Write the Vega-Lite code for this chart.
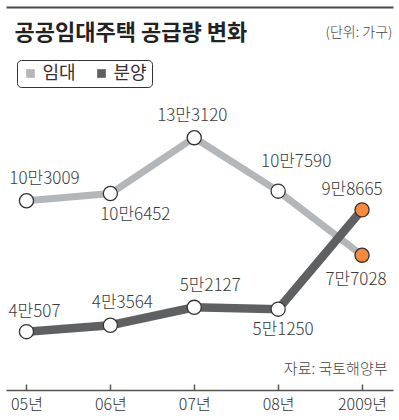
{
  "$schema": "https://vega.github.io/schema/vega-lite/v6.json",
  "width": 387,
  "height": 290,
  "autosize": {"type": "none"},
  "padding": {"left": 6, "top": 100, "right": 6, "bottom": 30},
  "background": "white",
  "config": {
    "view": {"stroke": null},
    "font": "Noto Sans CJK KR",
    "text": {"font": "Noto Sans CJK KR", "fontSize": 17, "fill": "#3a3a3a", "align": "center", "baseline": "middle", "fontWeight": 300}
  },
  "data": {
    "values": [
      {"year": 2005, "type": "임대", "value": 103009, "label": "10만3009"},
      {"year": 2006, "type": "임대", "value": 106452, "label": "10만6452"},
      {"year": 2007, "type": "임대", "value": 133120, "label": "13만3120"},
      {"year": 2008, "type": "임대", "value": 107590, "label": "10만7590"},
      {"year": 2009, "type": "임대", "value": 77028, "label": "7만7028"},
      {"year": 2005, "type": "분양", "value": 40507, "label": "4만507"},
      {"year": 2006, "type": "분양", "value": 43564, "label": "4만3564"},
      {"year": 2007, "type": "분양", "value": 52127, "label": "5만2127"},
      {"year": 2008, "type": "분양", "value": 51250, "label": "5만1250"},
      {"year": 2009, "type": "분양", "value": 98665, "label": "9만8665"}
    ]
  },
  "encoding": {
    "x": {"field": "year", "type": "quantitative", "scale": {"domain": [2004.756, 2009.369], "nice": false, "zero": false}, "axis": null},
    "y": {
      "field": "value", "type": "quantitative",
      "scale": {"domain": [12651, 151118], "nice": false, "zero": false},
      "axis": {
        "orient": "left", "domain": false, "ticks": false, "labels": false, "grid": false,
        "title": "공공임대주택 공급량 변화", "titleAngle": 0, "titleX": 8, "titleY": -68,
        "titleAlign": "left", "titleBaseline": "middle", "titleFontSize": 22, "titleFontWeight": "bold",
        "titleColor": "#222222", "titleFont": "Noto Sans CJK KR"
      }
    }
  },
  "resolve": {"axis": {"x": "independent"}},
  "layer": [
    {
      "mark": {"type": "line", "strokeCap": "butt", "strokeJoin": "miter"},
      "encoding": {
        "x": {
          "field": "year", "type": "quantitative",
          "axis": {
            "orient": "bottom", "values": [2005, 2006, 2007, 2008, 2009],
            "labelExpr": "datum.value == 2009 ? '2009년' : slice(toString(datum.value), 2) + '년'",
            "domainColor": "#555555", "domainWidth": 1.5, "tickColor": "#555555", "tickWidth": 1.5,
            "tickSize": -6, "labelPadding": 12, "labelFontSize": 16, "labelColor": "#333333",
            "labelFont": "Noto Sans CJK KR", "labelFontWeight": 300, "grid": false,
            "title": "자료: 국토해양부", "titleX": 381, "titleY": -22, "titleAlign": "right",
            "titleBaseline": "middle", "titleFontSize": 15, "titleFontWeight": 300,
            "titleColor": "#444444", "titleFont": "Noto Sans CJK KR"
          }
        },
        "color": {
          "field": "type", "type": "nominal",
          "scale": {"domain": ["임대", "분양"], "range": ["#b4b7b9", "#5f6062"]},
          "legend": {
            "orient": "none", "legendX": 11, "legendY": -40, "direction": "horizontal", "title": null,
            "symbolType": "square", "symbolSize": 75, "symbolStrokeWidth": 0, "labelFontSize": 18, "labelColor": "#333333",
            "labelFont": "Noto Sans CJK KR", "labelFontWeight": "normal", "strokeColor": "#333333", "cornerRadius": 4, "padding": 4.5,
            "fillColor": "white", "columnPadding": 16, "labelOffset": 3,
            "encode": {"symbols": {"update": {"fill": {"scale": "color", "field": "value"}, "stroke": {"value": "transparent"}, "strokeWidth": {"value": 0}, "opacity": {"value": 1}}}}
          }
        },
        "strokeWidth": {"condition": {"test": "datum.type == '분양'", "value": 8.5}, "value": 7}
      }
    },
    {
      "mark": {"type": "point", "shape": "circle", "filled": true, "size": 200, "stroke": "#333333", "strokeWidth": 1.3, "opacity": 1},
      "encoding": {
        "x": {
          "field": "year", "type": "quantitative",
          "axis": {
            "orient": "top", "offset": 93, "domain": true, "domainColor": "#4a4a4a", "domainWidth": 2,
            "ticks": false, "labels": false, "grid": false,
            "title": "(단위: 가구)", "titleX": 386, "titleY": 25, "titleAlign": "right", "titleBaseline": "middle",
            "titleFontSize": 14, "titleFontWeight": 300, "titleColor": "#444444", "titleFont": "Noto Sans CJK KR"
          }
        },
        "fill": {"condition": {"test": "datum.year == 2009", "value": "#f58a3c"}, "value": "white"}
      }
    },
    {"transform": [{"filter": "datum.label == '10만3009'"}], "mark": {"type": "text", "dx": 18, "dy": -22}, "encoding": {"text": {"field": "label"}}},
    {"transform": [{"filter": "datum.label == '10만6452'"}], "mark": {"type": "text", "dx": 25, "dy": 21}, "encoding": {"text": {"field": "label"}}},
    {"transform": [{"filter": "datum.label == '13만3120'"}], "mark": {"type": "text", "dx": -2, "dy": -22}, "encoding": {"text": {"field": "label"}}},
    {"transform": [{"filter": "datum.label == '10만7590'"}], "mark": {"type": "text", "dx": 18, "dy": -29}, "encoding": {"text": {"field": "label"}}},
    {"transform": [{"filter": "datum.label == '7만7028'"}], "mark": {"type": "text", "dx": -6, "dy": 25}, "encoding": {"text": {"field": "label"}}},
    {"transform": [{"filter": "datum.label == '4만507'"}], "mark": {"type": "text", "dx": 8, "dy": -20}, "encoding": {"text": {"field": "label"}}},
    {"transform": [{"filter": "datum.label == '4만3564'"}], "mark": {"type": "text", "dx": 12, "dy": -22}, "encoding": {"text": {"field": "label"}}},
    {"transform": [{"filter": "datum.label == '5만2127'"}], "mark": {"type": "text", "dx": 16, "dy": -21}, "encoding": {"text": {"field": "label"}}},
    {"transform": [{"filter": "datum.label == '5만1250'"}], "mark": {"type": "text", "dx": 5, "dy": 21}, "encoding": {"text": {"field": "label"}}},
    {"transform": [{"filter": "datum.label == '9만8665'"}], "mark": {"type": "text", "dx": -10, "dy": -20}, "encoding": {"text": {"field": "label"}}}
  ]
}
